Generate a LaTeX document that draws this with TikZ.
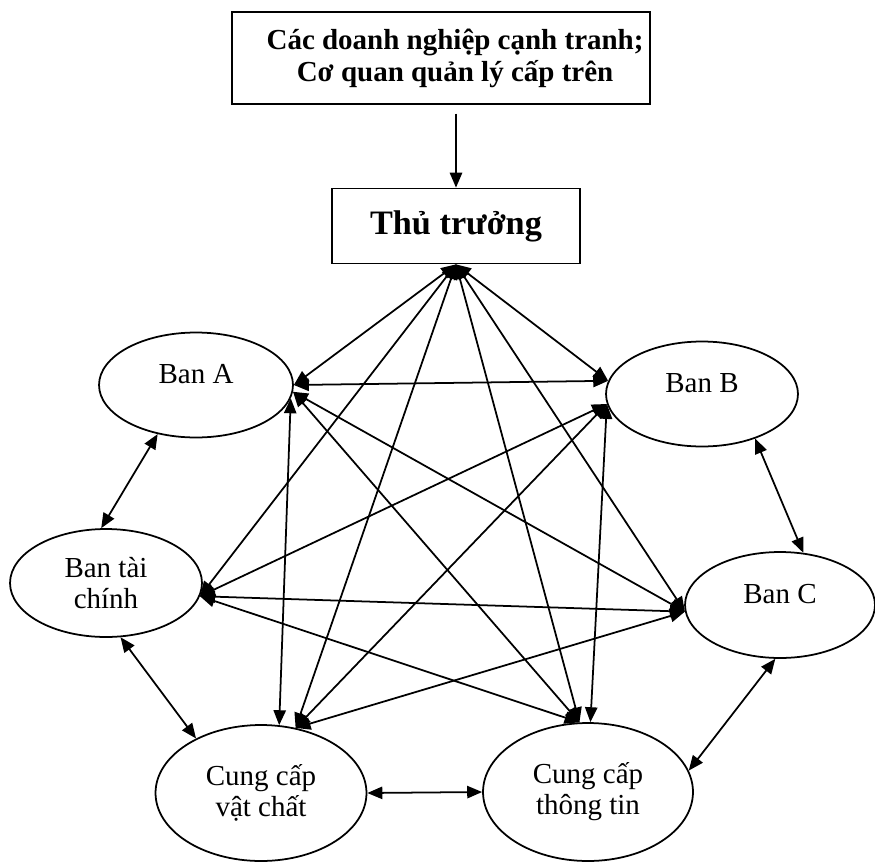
\documentclass[tikz,border=0pt]{standalone}
\usepackage{fontspec}
\setmainfont{Liberation Serif}
\usetikzlibrary{arrows.meta, shapes.geometric}
\tikzset{
  headbox/.style  = {draw, line width=1pt, inner sep=0pt, align=center,
                     font=\fontsize{16.5}{18.2}\selectfont\bfseries},
  unitoval/.style = {ellipse, draw, line width=1pt, inner sep=0pt, align=center,
                     font=\fontsize{16.5}{17.6}\selectfont},
  oneline/.style  = {text depth=12.5pt},
  link/.style     = {{Triangle[length=8.5pt,width=7pt]}-{Triangle[length=8.5pt,width=7pt]},
                     line width=1pt},
  feed/.style     = {-{Triangle[length=8.5pt,width=7pt]}, line width=1pt},
}

\begin{document}
\begin{tikzpicture}[x=0.02cm, y=-0.02cm]
  \useasboundingbox (0,0) rectangle (875,862);
  \node[headbox, minimum width=8.36cm, minimum height=1.84cm] (rivals) at (441,58)
    {\hspace*{16pt}Các doanh nghiệp cạnh tranh;\\\hspace*{16pt}Cơ quan quản lý cấp trên};
  \node[headbox, minimum width=4.96cm, minimum height=1.5cm,
        font=\fontsize{19.5}{21}\selectfont\bfseries] (chief) at (456,226) {Thủ trưởng};
  \node[unitoval, oneline, minimum width=3.88cm, minimum height=2.1cm] (banA) at (196,385) {Ban A};
  \node[unitoval, oneline, minimum width=3.84cm, minimum height=2.1cm] (banB) at (702,394) {Ban B};
  \node[unitoval, oneline, minimum width=3.8cm, minimum height=2.12cm] (banC) at (780,605) {Ban C};
  \node[unitoval, minimum width=3.84cm, minimum height=2.16cm] (finance) at (106,583) {Ban tài\\chính};
  \node[unitoval, minimum width=4.22cm, minimum height=2.72cm] (supply) at (261,793) {Cung cấp\\vật chất};
  \node[unitoval, minimum width=4.2cm, minimum height=2.76cm] (info) at (588,792) {Cung cấp\\thông tin};

  \draw[feed, shorten <=5pt] (chief.north |- rivals.south) -- (chief.north);

  \draw[link] (chief.south) -- (banA.east);
  \draw[link] (chief.south) -- (finance.-8);
  \draw[link] (chief.south) -- (supply.62);
  \draw[link] (chief.south) -- (info.97);
  \draw[link] (chief.south) -- (banC.184);
  \draw[link] (chief.south) -- (banB.172);

  \draw[link] (banA.east) -- (banB.172);
  \draw[link] (banA.-128) -- (finance.95);
  \draw[link] (banA.-8) -- (supply.75);
  \draw[link] (banA.-4) -- (banC.184);
  \draw[link] (banA.-4) -- (info.97);

  \draw[link] (banB.-40) -- (banC.66);
  \draw[link] (banB.186) -- (finance.-8);
  \draw[link] (banB.186) -- (supply.62);
  \draw[link] (banB.186) -- (info.88);

  \draw[link] (banC.184) -- (finance.-8);
  \draw[link] (banC.184) -- (supply.62);
  \draw[link] (banC.-95) -- (info.12);

  \draw[link] (finance.-75) -- (supply.140);
  \draw[link] (finance.-8) -- (info.97);
  \draw[link] (supply.east) -- (info.west);
\end{tikzpicture}
\end{document}
